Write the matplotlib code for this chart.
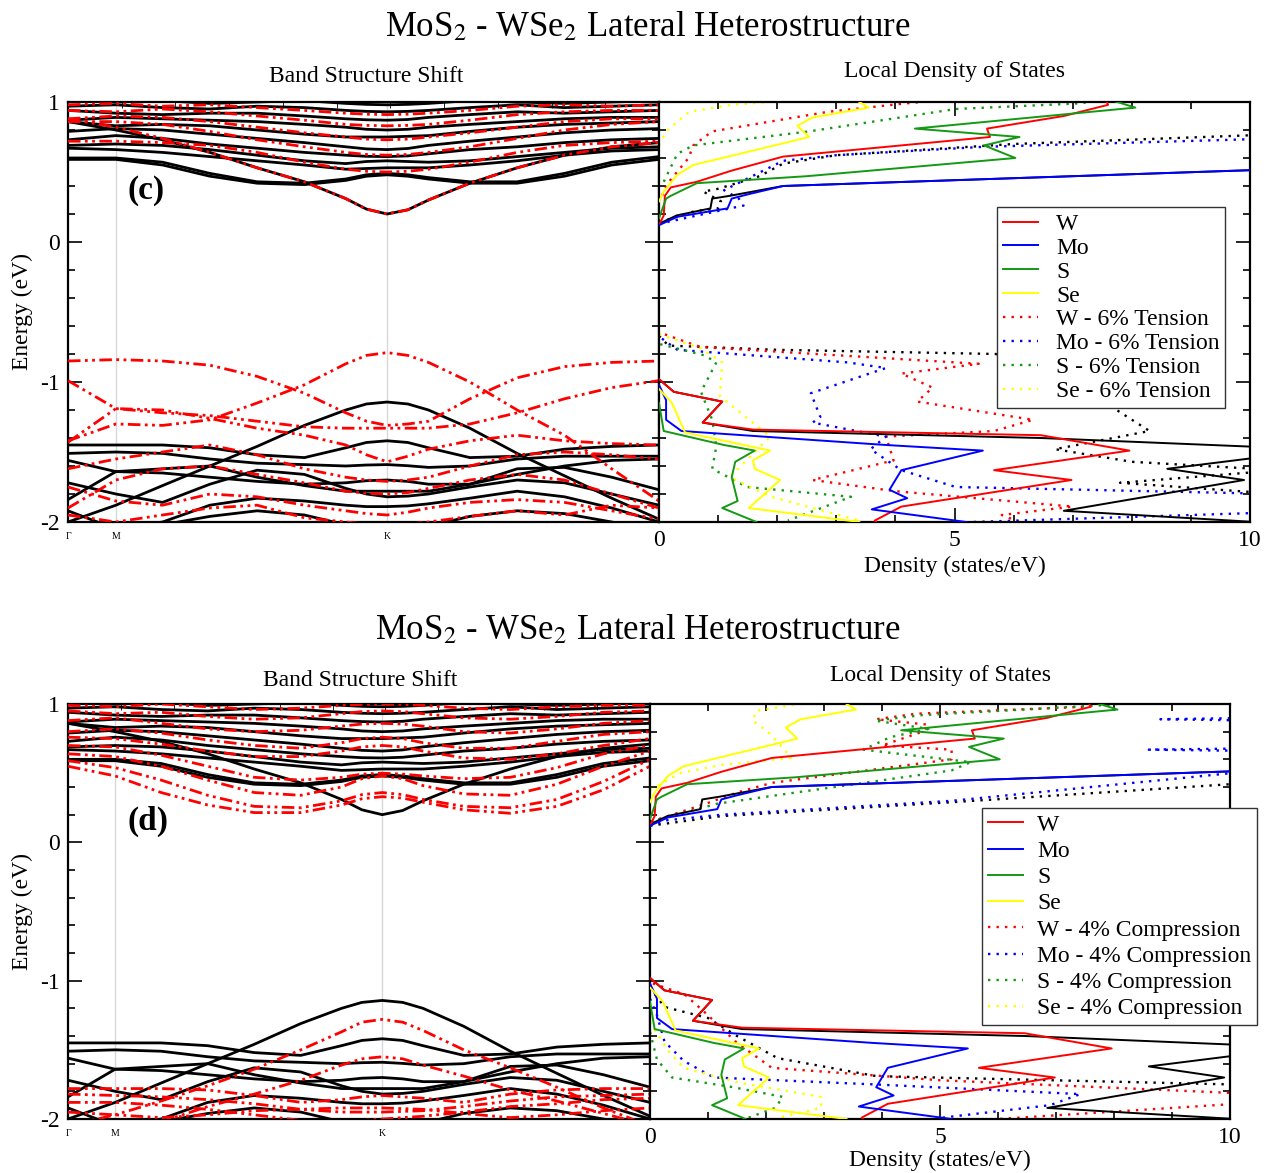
import matplotlib
matplotlib.use("Agg")
import matplotlib.pyplot as plt
from matplotlib.lines import Line2D
from matplotlib.ticker import MultipleLocator

plt.rcParams['font.family'] = ['Liberation Serif', 'DejaVu Serif']
plt.rcParams['mathtext.fontset'] = 'stix'
plt.rcParams['axes.unicode_minus'] = False

# ---------------- band structure data ----------------
KPTS = [0.0, 0.081, 0.16, 0.24, 0.32, 0.40, 0.47, 0.505, 0.54, 0.575, 0.61, 0.68, 0.76, 0.84, 0.92, 1.0]
KLABEL_POS = [0.0, 0.081, 0.54]
KLABELS = ["Γ", "M", "K"]

# unstrained bands (black), same in both panels
BLACK_CB = [
    [0.86, 0.80, 0.73, 0.64, 0.53, 0.43, 0.31, 0.235, 0.20, 0.23, 0.30, 0.42, 0.53, 0.62, 0.68, 0.71],
    [0.59, 0.59, 0.55, 0.47, 0.42, 0.41, 0.44, 0.47, 0.48, 0.47, 0.45, 0.42, 0.42, 0.47, 0.55, 0.59],
    [0.60, 0.60, 0.57, 0.49, 0.43, 0.42, 0.45, 0.48, 0.49, 0.48, 0.46, 0.43, 0.43, 0.49, 0.57, 0.61],
    [0.67, 0.66, 0.64, 0.61, 0.58, 0.55, 0.52, 0.525, 0.53, 0.53, 0.53, 0.55, 0.58, 0.62, 0.65, 0.66],
    [0.69, 0.70, 0.69, 0.66, 0.62, 0.58, 0.56, 0.575, 0.58, 0.575, 0.57, 0.58, 0.61, 0.64, 0.67, 0.68],
    [0.73, 0.76, 0.74, 0.70, 0.67, 0.64, 0.62, 0.612, 0.61, 0.615, 0.63, 0.66, 0.68, 0.71, 0.73, 0.74],
    [0.79, 0.81, 0.80, 0.77, 0.74, 0.71, 0.68, 0.665, 0.66, 0.668, 0.69, 0.72, 0.75, 0.78, 0.80, 0.81],
    [0.86, 0.83, 0.84, 0.83, 0.80, 0.77, 0.75, 0.75, 0.75, 0.755, 0.76, 0.79, 0.82, 0.84, 0.85, 0.86],
    [0.87, 0.89, 0.88, 0.87, 0.86, 0.84, 0.82, 0.805, 0.80, 0.805, 0.82, 0.84, 0.86, 0.88, 0.89, 0.89],
    [0.94, 0.92, 0.91, 0.92, 0.92, 0.90, 0.88, 0.873, 0.87, 0.875, 0.89, 0.91, 0.93, 0.92, 0.93, 0.94],
    [0.97, 0.98, 0.96, 0.95, 0.97, 0.96, 0.94, 0.933, 0.93, 0.933, 0.94, 0.96, 0.98, 0.96, 0.97, 0.98],
    [1.02, 1.00, 1.01, 0.99, 1.00, 1.01, 0.99, 0.983, 0.98, 0.983, 0.99, 1.01, 1.00, 0.99, 1.00, 1.01],
]
BLACK_VB = [
    [-2.00, -1.88, -1.74, -1.60, -1.46, -1.31, -1.20, -1.157, -1.143, -1.157, -1.20, -1.33, -1.51, -1.67, -1.83, -1.98],
    [-1.45, -1.45, -1.45, -1.47, -1.52, -1.54, -1.47, -1.432, -1.42, -1.432, -1.47, -1.54, -1.53, -1.48, -1.46, -1.45],
    [-1.51, -1.50, -1.51, -1.55, -1.58, -1.59, -1.60, -1.593, -1.59, -1.598, -1.61, -1.60, -1.55, -1.53, -1.53, -1.53],
    [-1.56, -1.64, -1.65, -1.68, -1.71, -1.73, -1.72, -1.705, -1.70, -1.71, -1.73, -1.73, -1.66, -1.60, -1.56, -1.55],
    [-1.84, -1.64, -1.62, -1.60, -1.68, -1.74, -1.78, -1.78, -1.78, -1.78, -1.78, -1.73, -1.62, -1.61, -1.68, -1.77],
    [-1.72, -1.80, -1.86, -1.73, -1.63, -1.66, -1.76, -1.80, -1.82, -1.815, -1.80, -1.75, -1.70, -1.72, -1.80, -1.88],
    [-1.92, -2.05, -2.00, -1.88, -1.83, -1.85, -1.88, -1.89, -1.89, -1.885, -1.87, -1.83, -1.78, -1.82, -1.90, -2.00],
    [-2.05, -2.10, -2.02, -1.96, -1.92, -1.95, -2.02, -2.06, -2.08, -2.065, -2.03, -1.96, -1.92, -1.94, -2.00, -2.06],
]
# 6% tension (red, panel c)
TENSION_CB = [
    [0.88, 0.82, 0.74, 0.64, 0.53, 0.43, 0.31, 0.235, 0.20, 0.23, 0.30, 0.42, 0.53, 0.62, 0.68, 0.71],
    [0.72, 0.72, 0.71, 0.69, 0.64, 0.57, 0.52, 0.505, 0.50, 0.505, 0.52, 0.57, 0.64, 0.69, 0.71, 0.72],
    [0.86, 0.86, 0.84, 0.79, 0.73, 0.68, 0.64, 0.625, 0.62, 0.625, 0.64, 0.68, 0.74, 0.80, 0.84, 0.86],
    [0.88, 0.90, 0.89, 0.86, 0.82, 0.78, 0.75, 0.735, 0.73, 0.735, 0.75, 0.78, 0.82, 0.86, 0.88, 0.88],
    [0.94, 0.93, 0.95, 0.93, 0.90, 0.87, 0.84, 0.833, 0.83, 0.833, 0.84, 0.87, 0.91, 0.93, 0.94, 0.94],
    [0.98, 0.99, 0.97, 0.98, 0.96, 0.94, 0.92, 0.913, 0.91, 0.913, 0.92, 0.94, 0.97, 0.98, 0.97, 0.98],
]
TENSION_VB = [
    [-1.42, -1.30, -1.31, -1.27, -1.15, -1.02, -0.87, -0.81, -0.79, -0.81, -0.86, -1.00, -1.20, -1.38, -1.62, -1.85],
    [-0.85, -0.84, -0.85, -0.88, -0.96, -1.08, -1.22, -1.28, -1.31, -1.30, -1.28, -1.12, -0.97, -0.89, -0.86, -0.85],
    [-0.99, -1.19, -1.22, -1.24, -1.28, -1.32, -1.33, -1.33, -1.33, -1.33, -1.33, -1.30, -1.22, -1.12, -1.04, -0.99],
    [-1.43, -1.19, -1.20, -1.26, -1.33, -1.38, -1.45, -1.52, -1.57, -1.53, -1.48, -1.42, -1.38, -1.42, -1.44, -1.45],
    [-1.62, -1.55, -1.50, -1.45, -1.52, -1.62, -1.68, -1.70, -1.71, -1.70, -1.68, -1.60, -1.52, -1.50, -1.52, -1.55],
    [-1.90, -1.70, -1.62, -1.60, -1.66, -1.72, -1.78, -1.795, -1.80, -1.79, -1.76, -1.70, -1.66, -1.70, -1.80, -1.90],
    [-1.75, -1.85, -1.88, -1.80, -1.82, -1.88, -1.92, -1.94, -1.95, -1.93, -1.90, -1.86, -1.84, -1.86, -1.92, -1.98],
    [-1.95, -2.00, -1.95, -1.90, -1.88, -1.97, -2.00, -2.015, -2.02, -2.015, -2.00, -1.96, -1.92, -1.95, -1.88, -1.90],
]
# 4% compression (red, panel d)
COMPRESSION_CB = [
    [0.55, 0.48, 0.36, 0.27, 0.215, 0.215, 0.27, 0.315, 0.33, 0.32, 0.29, 0.235, 0.21, 0.26, 0.38, 0.55],
    [0.59, 0.54, 0.45, 0.34, 0.26, 0.25, 0.30, 0.345, 0.36, 0.345, 0.31, 0.26, 0.25, 0.31, 0.44, 0.60],
    [0.64, 0.62, 0.55, 0.45, 0.36, 0.34, 0.40, 0.46, 0.48, 0.46, 0.41, 0.35, 0.34, 0.42, 0.55, 0.66],
    [0.70, 0.69, 0.63, 0.55, 0.47, 0.45, 0.47, 0.493, 0.50, 0.493, 0.48, 0.46, 0.47, 0.54, 0.64, 0.70],
    [0.76, 0.75, 0.71, 0.66, 0.62, 0.62, 0.66, 0.69, 0.70, 0.69, 0.66, 0.61, 0.60, 0.64, 0.70, 0.75],
    [0.80, 0.82, 0.79, 0.74, 0.70, 0.68, 0.72, 0.75, 0.76, 0.75, 0.72, 0.68, 0.68, 0.73, 0.78, 0.80],
    [0.88, 0.90, 0.86, 0.82, 0.80, 0.81, 0.84, 0.855, 0.86, 0.855, 0.84, 0.80, 0.79, 0.82, 0.86, 0.88],
    [0.95, 0.93, 0.94, 0.91, 0.89, 0.90, 0.93, 0.945, 0.95, 0.945, 0.93, 0.90, 0.89, 0.91, 0.94, 0.95],
    [0.99, 0.98, 1.00, 0.98, 0.96, 0.97, 0.99, 0.997, 1.00, 0.997, 0.99, 0.97, 0.96, 0.98, 0.99, 0.99],
]
COMPRESSION_VB = [
    [-2.05, -1.97, -1.87, -1.76, -1.64, -1.50, -1.37, -1.30, -1.28, -1.30, -1.36, -1.50, -1.63, -1.77, -1.92, -2.05],
    [-2.20, -2.12, -2.02, -1.91, -1.82, -1.72, -1.61, -1.565, -1.55, -1.565, -1.61, -1.69, -1.79, -1.87, -1.96, -2.05],
    [-1.78, -1.78, -1.78, -1.79, -1.83, -1.88, -1.86, -1.84, -1.83, -1.84, -1.85, -1.88, -1.82, -1.79, -1.78, -1.78],
    [-1.82, -1.83, -1.84, -1.86, -1.89, -1.93, -1.95, -1.95, -1.95, -1.945, -1.94, -1.91, -1.87, -1.84, -1.83, -1.82],
    [-1.88, -1.88, -1.90, -1.93, -1.97, -2.01, -2.02, -2.01, -2.00, -1.99, -1.98, -1.95, -1.91, -1.89, -1.86, -1.85],
    [-1.95, -1.97, -1.99, -1.97, -1.94, -1.93, -1.92, -1.92, -1.92, -1.925, -1.93, -1.96, -1.99, -1.97, -1.94, -1.92],
]

# ---------------- local density of states data ----------------
# unstrained (solid), shared by both panels: (density, energy)
W_CB_D = [0.0, 0.08, 0.10, 0.2, 0.64, 1.23, 2.1, 5.6, 5.55, 6.85, 7.6, 7.55]
W_CB_E = [0.12, 0.19, 0.33, 0.39, 0.43, 0.51, 0.61, 0.75, 0.81, 0.90, 0.98, 1.02]
W_VB_D = [0.0, 0.25, 1.07, 0.74, 1.59, 6.46, 7.96, 5.67, 6.98, 4.1, 3.65, 3.8]
W_VB_E = [-0.98, -1.07, -1.14, -1.29, -1.34, -1.38, -1.49, -1.63, -1.70, -1.89, -1.99, -2.05]
MO_CB_D = [0.0, 0.31, 1.16, 1.23, 1.5, 2.1, 10.5]
MO_CB_E = [0.12, 0.18, 0.24, 0.31, 0.34, 0.40, 0.52]
MO_VB_D = [0.0, 0.12, 0.12, 0.38, 3.84, 5.48, 4.1, 3.9, 4.2, 3.6, 5.2]
MO_VB_E = [-1.02, -1.13, -1.27, -1.35, -1.45, -1.49, -1.63, -1.77, -1.83, -1.91, -2.0]
S_CB_D = [0.0, 0.12, 0.2, 0.64, 2.5, 6.03, 5.5, 6.1, 4.33, 8.06, 7.6]
S_CB_E = [0.17, 0.31, 0.33, 0.42, 0.47, 0.60, 0.69, 0.75, 0.81, 0.96, 1.02]
S_VB_D = [0.0, 0.08, 1.1, 1.62, 1.29, 1.23, 1.33, 1.07, 1.65]
S_VB_E = [-1.15, -1.35, -1.45, -1.49, -1.57, -1.68, -1.85, -1.90, -2.0]
SE_CB_D = [0.0, 0.08, 0.31, 0.58, 2.54, 2.34, 2.6, 3.55, 3.39]
SE_CB_E = [0.29, 0.36, 0.48, 0.55, 0.75, 0.83, 0.89, 0.96, 1.0]
SE_VB_D = [0.0, 0.22, 0.44, 1.88, 1.59, 1.62, 2.05, 1.52, 3.39]
SE_VB_E = [-1.05, -1.15, -1.36, -1.49, -1.56, -1.62, -1.70, -1.90, -2.0]
TOT_CB_D = [0.0, 0.3, 0.87, 0.9, 1.2, 2.1, 10.5]
TOT_CB_E = [0.13, 0.19, 0.24, 0.31, 0.33, 0.40, 0.52]
TOT_VB_D = [0.0, 0.25, 1.07, 0.74, 1.59, 6.46, 10.5, 10.5, 8.6, 9.9, 6.85, 10.5]
TOT_VB_E = [-0.98, -1.07, -1.14, -1.29, -1.35, -1.40, -1.47, -1.52, -1.62, -1.70, -1.92, -2.01]

# 6% tension (dotted, panel c)
WT_CB_D = [0.05, 0.15, 0.5, 0.58, 0.9, 1.88, 2.86, 4.17, 5.0]
WT_CB_E = [0.33, 0.42, 0.60, 0.69, 0.79, 0.86, 0.93, 0.99, 1.02]
WT_VB_D = [0.1, 0.7, 5.41, 4.1, 4.63, 4.37, 6.33, 5.67, 3.84, 3.97, 2.6, 4.0, 7.0, 5.8, 6.1]
WT_VB_E = [-0.66, -0.75, -0.87, -0.94, -1.04, -1.14, -1.27, -1.35, -1.39, -1.56, -1.70, -1.78, -1.89, -1.95, -2.0]
MOT_CB_D = [0.0, 1.2, 1.43, 1.35, 1.1, 2.1, 3.0, 5.5, 10.5]
MOT_CB_E = [0.13, 0.24, 0.26, 0.31, 0.37, 0.58, 0.62, 0.68, 0.74]
MOT_VB_D = [0.05, 0.31, 3.19, 3.84, 2.57, 2.73, 2.6, 3.84, 3.58, 4.1, 5.02, 10.5, 10.5, 5.3]
MOT_VB_E = [-0.69, -0.77, -0.86, -0.90, -1.08, -1.25, -1.29, -1.39, -1.48, -1.63, -1.75, -1.80, -1.93, -2.0]
ST_CB_D = [0.08, 0.31, 0.58, 2.54, 5.02, 7.1, 7.5]
ST_CB_E = [0.43, 0.63, 0.69, 0.79, 0.95, 0.99, 1.01]
ST_VB_D = [0.02, 0.77, 0.97, 0.71, 0.9, 0.97, 0.9, 1.49, 3.25, 2.18]
ST_VB_E = [-0.73, -0.81, -0.86, -1.07, -1.27, -1.46, -1.62, -1.75, -1.82, -1.99]
SET_CB_D = [0.0, 0.12, 0.51, 1.23, 1.9]
SET_CB_E = [0.69, 0.79, 0.93, 0.98, 1.0]
SET_VB_D = [0.0, 0.71, 1.07, 1.03, 1.88, 1.2, 1.9, 3.39]
SET_VB_E = [-0.66, -0.76, -0.86, -1.10, -1.39, -1.68, -1.82, -1.99]
TOTT_CB_D = [0.0, 0.6, 1.0, 1.05, 0.75, 1.0, 1.7, 2.1, 3.0, 6.0, 10.5]
TOTT_CB_E = [0.14, 0.22, 0.24, 0.29, 0.36, 0.38, 0.47, 0.56, 0.62, 0.70, 0.77]
TOTT_VB_D = [0.0, 0.16, 2.0, 5.7, 7.0, 8.3, 6.7, 8.0, 10.5, 7.8, 10.5]
TOTT_VB_E = [-0.67, -0.74, -0.77, -0.80, -1.0, -1.35, -1.48, -1.57, -1.63, -1.72, -1.80]

# 4% compression (dotted, panel d)
WC_CB_D = [0.02, 0.9, 1.5, 2.1, 5.2, 5.2, 4.0, 4.7, 4.8, 3.9, 4.6, 7.5]
WC_CB_E = [0.15, 0.27, 0.36, 0.43, 0.60, 0.67, 0.70, 0.80, 0.85, 0.89, 0.93, 0.98]
WC_VB_D = [0.05, 0.6, 1.0, 1.5, 2.1, 5.0, 10.5, 10.5, 6.0]
WC_VB_E = [-1.02, -1.10, -1.25, -1.45, -1.63, -1.72, -1.82, -1.88, -2.0]
MOC_CB_D = [0.0, 0.3, 1.24, 5.2, 10.5, 10.5, 8.6, 10.5, 10.5, 8.8, 10.5]
MOC_CB_E = [0.12, 0.16, 0.20, 0.30, 0.52, 0.66, 0.67, 0.68, 0.88, 0.89, 0.90]
MOC_VB_D = [0.0, 0.12, 0.25, 0.58, 1.1, 3.87, 7.42, 6.9, 5.05]
MOC_VB_E = [-1.13, -1.25, -1.44, -1.58, -1.70, -1.75, -1.82, -1.90, -1.99]
SC_CB_D = [0.0, 1.17, 5.2, 5.53, 3.68, 4.14, 4.8, 3.88, 4.7, 7.97, 8.2]
SC_CB_E = [0.15, 0.28, 0.52, 0.58, 0.67, 0.76, 0.82, 0.88, 0.92, 0.995, 1.01]
SC_VB_D = [0.0, 0.12, 0.38, 1.43, 2.29, 2.16, 1.7]
SC_VB_E = [-1.37, -1.57, -1.70, -1.77, -1.84, -1.92, -1.99]
SEC_CB_D = [0.0, 0.18, 0.51, 1.24, 2.43, 2.3, 2.03, 1.77, 1.83, 2.56]
SEC_CB_E = [0.38, 0.42, 0.50, 0.56, 0.61, 0.68, 0.80, 0.88, 0.95, 1.0]
SEC_VB_D = [0.0, 0.32, 0.58, 1.57, 2.95, 2.95, 2.22]
SEC_VB_E = [-1.3, -1.51, -1.63, -1.74, -1.84, -1.92, -1.99]
TOTC_CB_D = [0.0, 1.24, 5.2, 10.0, 10.5]
TOTC_CB_E = [0.12, 0.19, 0.29, 0.42, 0.44]
TOTC_VB_D = [0.0, 0.25, 1.0, 1.5, 2.2, 3.9, 10.0, 10.5]
TOTC_VB_E = [-1.05, -1.19, -1.27, -1.40, -1.56, -1.69, -1.75, -1.76]

SPECIES = ["W", "Mo", "S", "Se"]
COLORS = {"W": "#ff0000", "Mo": "#0000ff", "S": "#139913", "Se": "#ffff00", "tot": "#000000"}

SOLID = {
    "tot": [(TOT_CB_D, TOT_CB_E), (TOT_VB_D, TOT_VB_E)],
    "W": [(W_CB_D, W_CB_E), (W_VB_D, W_VB_E)],
    "Mo": [(MO_CB_D, MO_CB_E), (MO_VB_D, MO_VB_E)],
    "S": [(S_CB_D, S_CB_E), (S_VB_D, S_VB_E)],
    "Se": [(SE_CB_D, SE_CB_E), (SE_VB_D, SE_VB_E)],
}
TENSION = {
    "tot": [(TOTT_CB_D, TOTT_CB_E), (TOTT_VB_D, TOTT_VB_E)],
    "W": [(WT_CB_D, WT_CB_E), (WT_VB_D, WT_VB_E)],
    "Mo": [(MOT_CB_D, MOT_CB_E), (MOT_VB_D, MOT_VB_E)],
    "S": [(ST_CB_D, ST_CB_E), (ST_VB_D, ST_VB_E)],
    "Se": [(SET_CB_D, SET_CB_E), (SET_VB_D, SET_VB_E)],
}
COMPRESSION = {
    "tot": [(TOTC_CB_D, TOTC_CB_E), (TOTC_VB_D, TOTC_VB_E)],
    "W": [(WC_CB_D, WC_CB_E), (WC_VB_D, WC_VB_E)],
    "Mo": [(MOC_CB_D, MOC_CB_E), (MOC_VB_D, MOC_VB_E)],
    "S": [(SC_CB_D, SC_CB_E), (SC_VB_D, SC_VB_E)],
    "Se": [(SEC_CB_D, SEC_CB_E), (SEC_VB_D, SEC_VB_E)],
}

W_PX, H_PX = 1264, 1173
fig = plt.figure(figsize=(W_PX / 100, H_PX / 100), dpi=100)

RED_DASH = (0, (4.5, 1.6, 1.0, 1.6, 1.0, 1.6))
DOT = (0, (1, 2.6))
FS = 17


def frac(x0, y0, x1, y1):
    return [x0 / W_PX, 1 - y1 / H_PX, (x1 - x0) / W_PX, (y1 - y0) / H_PX]


def style_band(ax):
    ax.set_xlim(0, 1)
    ax.set_ylim(-2, 1)
    ax.set_yticks([-2, -1, 0, 1])
    ax.set_yticklabels(["-2", "-1", "0", "1"])
    ax.yaxis.set_minor_locator(MultipleLocator(0.2))
    ax.tick_params(axis='y', which='both', direction='in', left=True, right=True,
                   labelsize=FS, width=1.2)
    ax.tick_params(axis='y', which='major', length=10, pad=6)
    ax.tick_params(axis='y', which='minor', length=5)
    ax.set_xticks(KLABEL_POS)
    ax.set_xticklabels(KLABELS, fontsize=7)
    ax.xaxis.set_minor_locator(MultipleLocator(1 / 11))
    ax.tick_params(axis='x', which='major', length=0, pad=7)
    ax.tick_params(axis='x', which='minor', direction='in', top=True, bottom=False, length=4)
    for s in ax.spines.values():
        s.set_linewidth(1.6)
    for xk in KLABEL_POS[1:]:
        ax.axvline(xk, color='#d8d8d8', lw=1.0, zorder=0)


def style_dos(ax):
    ax.set_xlim(0, 10)
    ax.set_ylim(-2, 1)
    ax.xaxis.set_major_locator(MultipleLocator(5))
    ax.xaxis.set_minor_locator(MultipleLocator(1))
    ax.yaxis.set_major_locator(MultipleLocator(1))
    ax.yaxis.set_minor_locator(MultipleLocator(0.2))
    ax.tick_params(axis='both', which='both', direction='in', top=True, bottom=True,
                   left=True, right=True, labelleft=False, labelsize=FS, width=1.2)
    ax.tick_params(axis='both', which='major', length=10)
    ax.tick_params(axis='x', which='major', pad=6)
    ax.tick_params(axis='both', which='minor', length=5)
    for s in ax.spines.values():
        s.set_linewidth(1.6)


def draw_bands(ax, strained_cb, strained_vb):
    for band in BLACK_CB + BLACK_VB:
        ax.plot(KPTS, band, color='black', lw=2.0, solid_capstyle='round',
                solid_joinstyle='round', zorder=2)
    for band in strained_cb + strained_vb:
        ax.plot(KPTS, band, color='#ff0000', lw=2.0, linestyle=RED_DASH, zorder=3)


def draw_dos(ax, strained):
    for key in ["tot"] + SPECIES:
        for d, e in strained[key]:
            ax.plot(d, e, color=COLORS[key], lw=1.7, linestyle=DOT, zorder=2)
    for key in ["tot"] + SPECIES:
        for d, e in SOLID[key]:
            ax.plot(d, e, color=COLORS[key], lw=1.4, zorder=3)


def legend(ax, suffix, spacing, textpad):
    handles = []
    labels = []
    for sp in SPECIES:
        handles.append(Line2D([], [], color=COLORS[sp], lw=1.4))
        labels.append(sp)
    for sp in SPECIES:
        handles.append(Line2D([], [], color=COLORS[sp], lw=1.7, linestyle=DOT))
        labels.append(sp + " - " + suffix)
    leg = ax.legend(handles, labels, loc='upper left', bbox_to_anchor=(0.572, 0.749),
                    fontsize=FS, frameon=True, fancybox=False, framealpha=1,
                    edgecolor='#333333', labelspacing=spacing, handlelength=1.5,
                    handletextpad=textpad, borderpad=0.25, borderaxespad=0)
    leg.get_frame().set_linewidth(1.0)
    leg.set_zorder(10)


# ---------------- panel (c) ----------------
ax_bc = fig.add_axes(frac(68, 102, 659, 522))
style_band(ax_bc)
draw_bands(ax_bc, TENSION_CB, TENSION_VB)
ax_bc.text(0.132, 0.79, "(c)", transform=ax_bc.transAxes, fontsize=24, fontweight='bold',
           ha='center', va='center')

ax_dc = fig.add_axes(frac(659, 102, 1250, 522))
style_dos(ax_dc)
draw_dos(ax_dc, TENSION)
legend(ax_dc, "6% Tension", 0.1, 0.75)

# ---------------- panel (d) ----------------
ax_bd = fig.add_axes(frac(68, 704, 650, 1119))
style_band(ax_bd)
draw_bands(ax_bd, COMPRESSION_CB, COMPRESSION_VB)
ax_bd.text(0.137, 0.716, "(d)", transform=ax_bd.transAxes, fontsize=24, fontweight='bold',
           ha='center', va='center')

ax_dd = fig.add_axes(frac(650, 704, 1230, 1119))
style_dos(ax_dd)
draw_dos(ax_dd, COMPRESSION)
legend(ax_dd, "4% Compression", 0.2, 0.6)

# ---------------- texts ----------------
TITLE = "MoS$_2$ - WSe$_2$ Lateral Heterostructure"
fig.text(648 / W_PX, 1 - 27 / H_PX, TITLE, fontsize=25, ha='center', va='center')
fig.text(638 / W_PX, 1 - 630 / H_PX, TITLE, fontsize=25, ha='center', va='center')
fig.text(366 / W_PX, 1 - 77 / H_PX, "Band Structure Shift", fontsize=FS, ha='center', va='center')
fig.text(955 / W_PX, 1 - 72 / H_PX, "Local Density of States", fontsize=FS, ha='center', va='center')
fig.text(360 / W_PX, 1 - 680 / H_PX, "Band Structure Shift", fontsize=FS, ha='center', va='center')
fig.text(940 / W_PX, 1 - 675 / H_PX, "Local Density of States", fontsize=FS, ha='center', va='center')
fig.text(955 / W_PX, 1 - 566 / H_PX, "Density (states/eV)", fontsize=FS, ha='center', va='center')
fig.text(940 / W_PX, 1 - 1160 / H_PX, "Density (states/eV)", fontsize=FS, ha='center', va='center')
fig.text(22 / W_PX, 1 - 312 / H_PX, "Energy (eV)", fontsize=FS, ha='center', va='center', rotation=90)
fig.text(22 / W_PX, 1 - 912 / H_PX, "Energy (eV)", fontsize=FS, ha='center', va='center', rotation=90)

fig.savefig("out.png", dpi=100, facecolor='white')
